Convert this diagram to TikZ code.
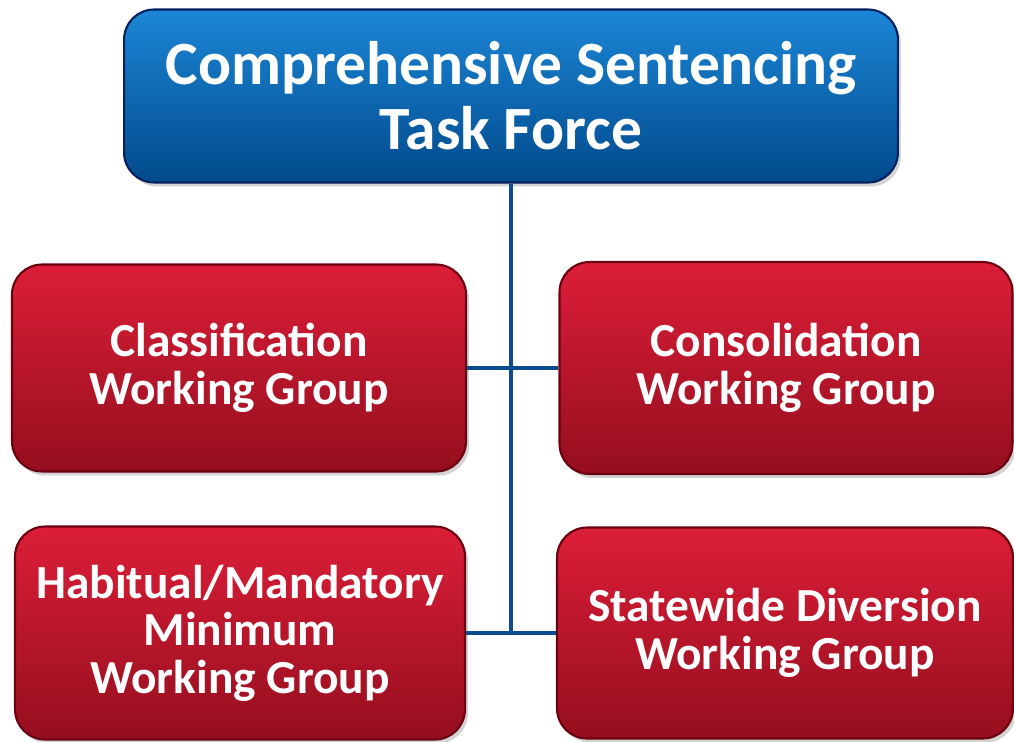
\documentclass[tikz,border=0pt]{standalone}
\usepackage{fontspec}
\setmainfont{Carlito}
\usetikzlibrary{shadows}
\definecolor{bluetop}{HTML}{1C86D6}
\definecolor{bluebot}{HTML}{024A8C}
\definecolor{blueedge}{HTML}{032060}
\definecolor{redtop}{HTML}{DC1E38}
\definecolor{redbot}{HTML}{940E1E}
\definecolor{rededge}{HTML}{6A0010}
\definecolor{linkblue}{HTML}{0B4C8E}
\begin{document}
\begin{tikzpicture}[x=0.02cm,y=-0.02cm,
    head/.style ={rounded corners=0.6cm, draw=blueedge, line width=1.2pt,
      top color=bluetop, bottom color=bluebot, text=white, align=center,
      font=\bfseries\fontsize{35}{37}\selectfont,
      drop shadow={shadow xshift=0.06cm, shadow yshift=-0.08cm, opacity=0.35},
      inner sep=0pt},
    group/.style ={rounded corners=0.6cm, draw=rededge, line width=1.2pt,
      top color=redtop, bottom color=redbot, text=white, align=center,
      font=\bfseries\fontsize{27}{27}\selectfont,
      drop shadow={shadow xshift=0.06cm, shadow yshift=-0.08cm, opacity=0.35},
      inner sep=0pt},
    link/.style ={draw=linkblue, line width=2.8pt}]
   \useasboundingbox (0,0) rectangle (1014,741);
   \node[head, minimum width=15.48cm, minimum height=3.46cm] (task) at (511,96) {Comprehensive Sentencing\\Task Force};
   \node[group, minimum width=9.08cm, minimum height=4.14cm] (cls) at (239,368) {Classification\\Working Group};
   \node[group, minimum width=9.06cm, minimum height=4.24cm] (con) at (786,368) {Consolidation\\Working Group};
   \node[group, minimum width=9.0cm, minimum height=4.26cm] (hab) at (240,633) {Habitual/Mandatory\\Minimum\\Working Group};
   \node[group, minimum width=9.12cm, minimum height=4.22cm] (sta) at (785,633) {Statewide Diversion\\Working Group};
   \draw[link] (task.south) -- (task.south |- hab.east);
   \draw[link] (cls.east) -- (con.west);
   \draw[link] (hab.east) -- (sta.west);
 \end{tikzpicture}
\end{document}
